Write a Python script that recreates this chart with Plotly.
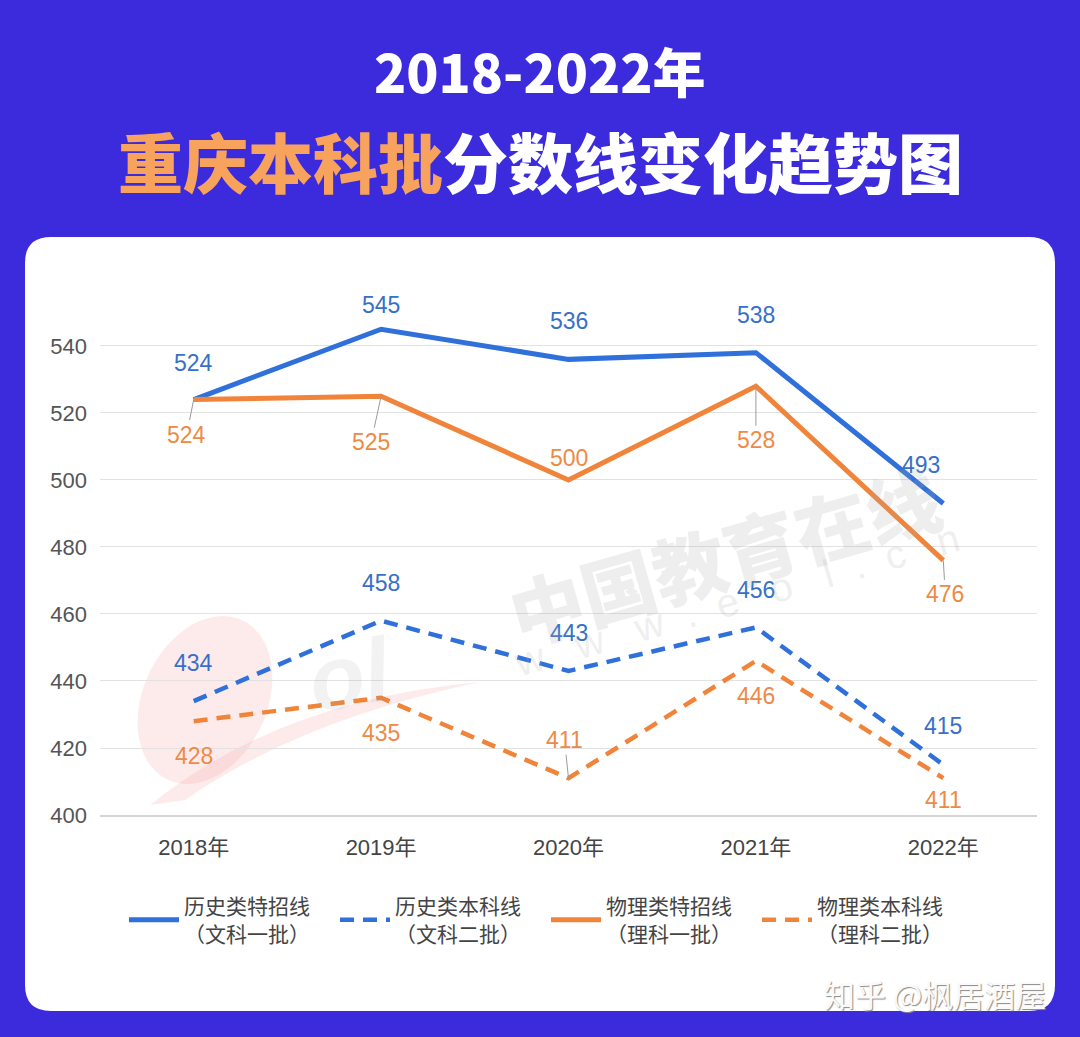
import numpy as np
import plotly.graph_objects as go

# ---------------- data ----------------
years = ["2018年", "2019年", "2020年", "2021年", "2022年"]
hist_special = [524, 545, 536, 538, 493]   # 历史类特招线（文科一批）
hist_ben = [434, 458, 443, 456, 415]       # 历史类本科线（文科二批）
phys_special = [524, 525, 500, 528, 476]   # 物理类特招线（理科一批）
phys_ben = [428, 435, 411, 446, 411]       # 物理类本科线（理科二批）
series_names = ["历史类特招线<br>（文科一批）", "历史类本科线<br>（文科二批）",
                "物理类特招线<br>（理科一批）", "物理类本科线<br>（理科二批）"]
y_ticks = [400, 420, 440, 460, 480, 500, 520, 540]

# ---------------- styles ----------------
BLUE = "#2f70da"
ORANGE = "#f0843a"
BLUE_TXT = "#3670c8"
ORANGE_TXT = "#ee8a45"
BG = "#3b2bdc"
W, H = 1080, 1037
L, R, T, B = 100, 43, 286, 222
PW, PH = W - L - R, H - T - B

def px2x(px):
    return (px - L) / PW

def py2y(py):
    return (H - B - py) / PH

# label offsets (dx, dy up in px, leader line?)
off_hs = [(0, 37, False), (0, 24, False), (0, 38, False), (0, 38, False), (-22, 38, False)]
off_ps = [(-7, -35, True), (-10, -46, True), (0, 22, False), (0, -54, True), (2, -34, True)]
off_hb = [(0, 38, False), (0, 38, False), (0, 38, False), (0, 37, False), (0, 39, False)]
off_pb = [(0, -35, False), (0, -35, False), (-4, 38, True), (0, -35, False), (0, -22, False)]

fig = go.Figure()
specs = [
    (hist_special, BLUE, "solid", 5),
    (hist_ben, BLUE, "14px,9px", 4.5),
    (phys_special, ORANGE, "solid", 5),
    (phys_ben, ORANGE, "14px,9px", 4.5),
]
for (vals, col, dash, w), name in zip(specs, series_names):
    fig.add_trace(go.Scatter(x=years, y=vals, mode="lines", name=name,
                             line=dict(color=col, width=w, dash=dash)))

NUMFONT = "Liberation Sans, Arial"
annotations = []
for vals, offs, col in [(hist_special, off_hs, BLUE_TXT), (phys_special, off_ps, ORANGE_TXT),
                        (hist_ben, off_hb, BLUE_TXT), (phys_ben, off_pb, ORANGE_TXT)]:
    for xv, yv, (dx, dy, lead) in zip(years, vals, offs):
        a = dict(x=xv, y=yv, xref="x", yref="y", text=str(yv),
                 font=dict(size=23, color=col, family=NUMFONT))
        if lead:
            a.update(showarrow=True, arrowhead=0, arrowwidth=1, arrowcolor="#9a9a9a",
                     ax=dx, ay=-dy, standoff=0)
        else:
            a.update(showarrow=False, xshift=dx, yshift=dy)
        annotations.append(a)

def paper_text(px, py, text, font, **kw):
    d = dict(xref="paper", yref="paper", x=px2x(px), y=py2y(py), text=text,
             showarrow=False, xanchor="center", yanchor="middle", font=font)
    d.update(kw)
    return d

# titles
annotations.append(paper_text(540, 70, "2018-2022年",
                              dict(size=53, color="white", family="Noto Sans CJK SC", weight=900)))
annotations.append(paper_text(540, 160,
                              "<span style='color:#f7a35e'>重庆本科批</span>分数线变化趋势图",
                              dict(size=65, color="white", family="Noto Sans CJK SC", weight=900)))
# watermarks
annotations.append(paper_text(724, 553, "中国教育在线",
                              dict(size=74, color="rgba(170,170,170,0.2)",
                                   family="Noto Sans CJK SC", weight=900), textangle=-16))
annotations.append(paper_text(736, 600, "w   w   w  .  e   o   l  .  c   n",
                              dict(size=40, color="rgba(170,170,170,0.2)", family=NUMFONT),
                              textangle=-16))
annotations.append(paper_text(350, 675, "<b><i>ol</i></b>",
                              dict(size=90, color="rgba(150,150,150,0.12)", family=NUMFONT),
                              textangle=-10))
annotations.append(paper_text(935, 993, "知乎 @枫居酒屋",
                              dict(size=31, color="#fafafa", family="Noto Sans CJK SC",
                                   shadow="1px 1px 1px #8a8a8a")))

# shapes: white rounded panel and faint logo
def rrect(x0, y0, x1, y1, r):
    X0, X1 = px2x(x0), px2x(x1)
    Y0, Y1 = py2y(y0), py2y(y1)
    rx, ry = r / PW, r / PH
    return (f"M {X0+rx},{Y0} L {X1-rx},{Y0} Q {X1},{Y0} {X1},{Y0-ry} "
            f"L {X1},{Y1+ry} Q {X1},{Y1} {X1-rx},{Y1} L {X0+rx},{Y1} "
            f"Q {X0},{Y1} {X0},{Y1+ry} L {X0},{Y0-ry} Q {X0},{Y0} {X0+rx},{Y0} Z")

t = np.linspace(0, 2 * np.pi, 60)
cx, cy, ra, rb, ang = 205, 700, 62, 88, np.deg2rad(25)
ex = cx + ra * np.cos(t) * np.cos(ang) - rb * np.sin(t) * np.sin(ang)
ey = cy + ra * np.cos(t) * np.sin(ang) + rb * np.sin(t) * np.cos(ang)
ell = "M " + " L ".join(f"{px2x(a)},{py2y(b)}" for a, b in zip(ex, ey)) + " Z"
swoosh = (f"M {px2x(150)},{py2y(805)} Q {px2x(280)},{py2y(700)} {px2x(480)},{py2y(682)} "
          f"Q {px2x(300)},{py2y(720)} {px2x(185)},{py2y(800)} Z")

shapes = [
    dict(type="path", path=rrect(25, 237, 1055, 1011, 26), xref="paper", yref="paper",
         fillcolor="white", line=dict(width=0), layer="below"),
    dict(type="path", path=ell, xref="paper", yref="paper",
         fillcolor="rgba(240,120,130,0.15)", line=dict(width=0), layer="below"),
    dict(type="path", path=swoosh, xref="paper", yref="paper",
         fillcolor="rgba(240,120,130,0.15)", line=dict(width=0), layer="below"),
]

fig.update_layout(
    width=W, height=H,
    margin=dict(l=L, r=R, t=T, b=B, pad=0),
    paper_bgcolor=BG, plot_bgcolor="rgba(0,0,0,0)",
    showlegend=True,
    legend=dict(orientation="h", x=px2x(546), xanchor="center", y=py2y(886), yanchor="top",
                font=dict(size=21, color="#444", family="Noto Sans CJK SC"),
                entrywidth=146, entrywidthmode="pixels", itemwidth=50,
                bgcolor="rgba(0,0,0,0)"),
    xaxis=dict(type="category", range=[-0.5, 4.5], showgrid=False, zeroline=False,
               showline=True, linecolor="#d4d4d4", linewidth=1.5,
               ticks="", tickfont=dict(size=22, color="#444", family="Liberation Sans, Noto Sans CJK SC"),
               ticklabelstandoff=12, fixedrange=True),
    yaxis=dict(range=[400, 557.9], tickvals=y_ticks, showgrid=True, gridcolor="#e2e2e2",
               gridwidth=1, zeroline=False, showline=False, ticks="",
               tickfont=dict(size=22, color="#555", family=NUMFONT),
               ticklabelstandoff=12, fixedrange=True),
    annotations=annotations,
    shapes=shapes,
)

fig.write_html("out.html", config={"displayModeBar": False},
               post_script="document.body.style.margin='0';document.body.style.overflow='hidden';")
